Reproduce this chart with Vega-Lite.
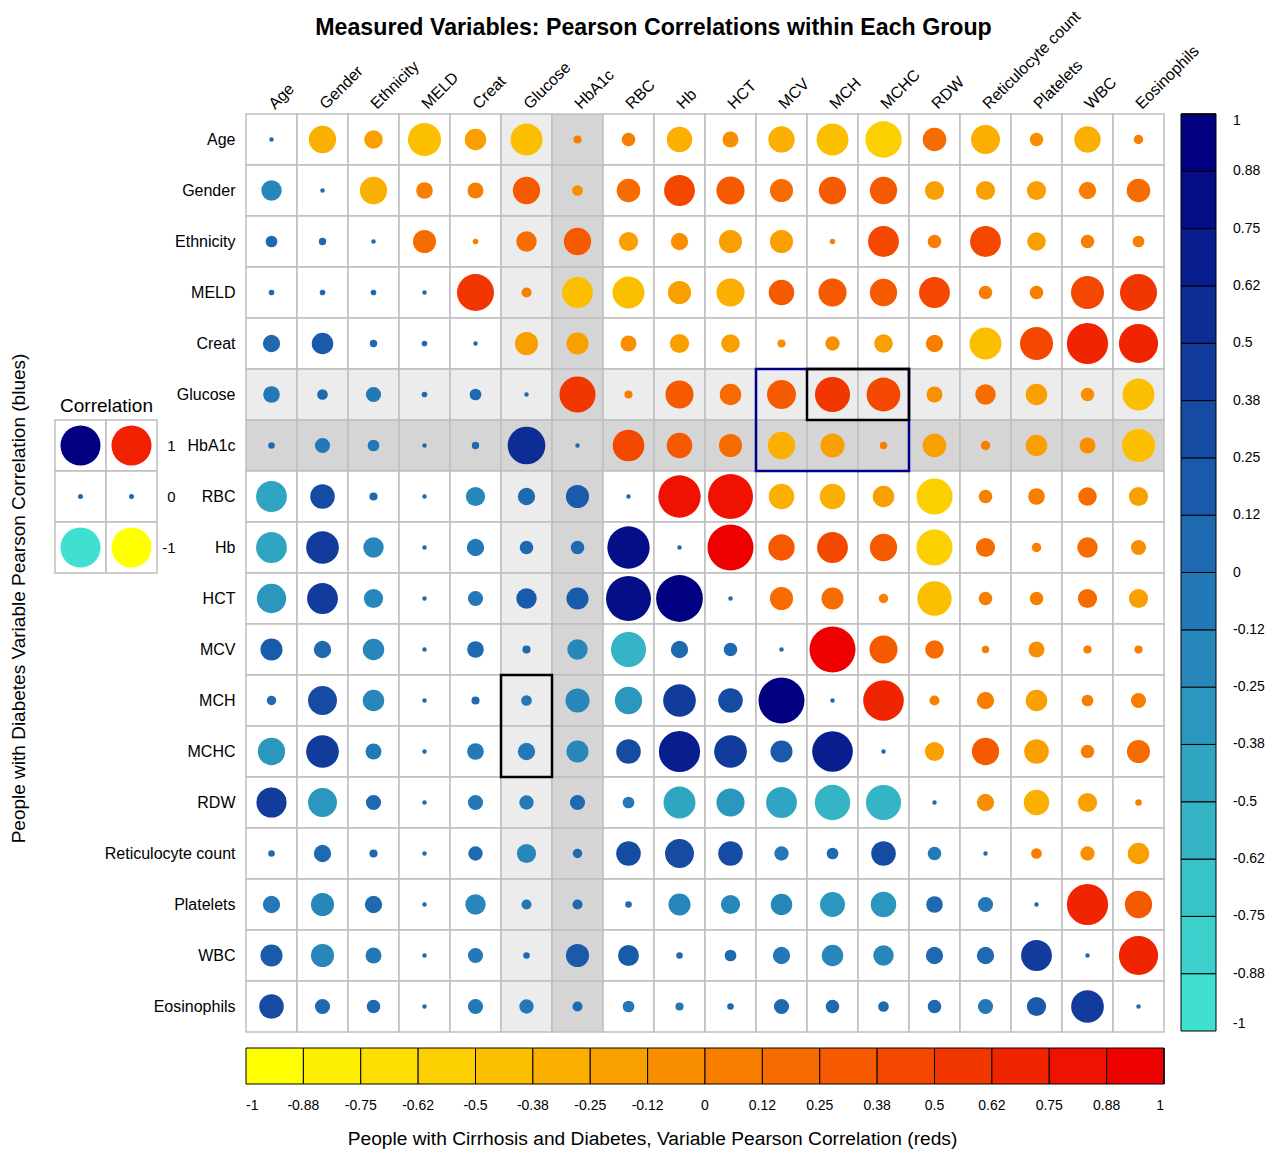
{
"$schema": "https://vega.github.io/schema/vega-lite/v6.json",
"width": 918, "height": 918,
"autosize": "none",
"padding": {"left": 246, "top": 114, "right": 110, "bottom": 117},
"background": "white",
"config": {"font": "Liberation Sans", "view": {"stroke": null}},
"datasets": {
"corr": [
{"a":"Age","b":"Age","g":"d","r":0},{"a":"Age","b":"Gender","g":"c","r":-0.31},{"a":"Age","b":"Ethnicity","g":"c","r":-0.14},{"a":"Age","b":"MELD","g":"c","r":-0.46},{"a":"Age","b":"Creat","g":"c","r":-0.19},{"a":"Age","b":"Glucose","g":"c","r":-0.43},{"a":"Age","b":"HbA1c","g":"c","r":0.02},{"a":"Age","b":"RBC","g":"c","r":0.07},{"a":"Age","b":"Hb","g":"c","r":-0.27},{"a":"Age","b":"HCT","g":"c","r":-0.1},{"a":"Age","b":"MCV","g":"c","r":-0.29},{"a":"Age","b":"MCH","g":"c","r":-0.43},{"a":"Age","b":"MCHC","g":"c","r":-0.56},{"a":"Age","b":"RDW","g":"c","r":0.23},{"a":"Age","b":"Reticulocyte count","g":"c","r":-0.35},{"a":"Age","b":"Platelets","g":"c","r":-0.07},{"a":"Age","b":"WBC","g":"c","r":-0.29},{"a":"Age","b":"Eosinophils","g":"c","r":0.03},
{"a":"Gender","b":"Age","g":"d","r":-0.17},{"a":"Gender","b":"Gender","g":"d","r":0},{"a":"Gender","b":"Ethnicity","g":"c","r":-0.31},{"a":"Gender","b":"MELD","g":"c","r":0.11},{"a":"Gender","b":"Creat","g":"c","r":0.1},{"a":"Gender","b":"Glucose","g":"c","r":0.31},{"a":"Gender","b":"HbA1c","g":"c","r":-0.04},{"a":"Gender","b":"RBC","g":"c","r":0.23},{"a":"Gender","b":"Hb","g":"c","r":0.4},{"a":"Gender","b":"HCT","g":"c","r":0.33},{"a":"Gender","b":"MCV","g":"c","r":0.22},{"a":"Gender","b":"MCH","g":"c","r":0.31},{"a":"Gender","b":"MCHC","g":"c","r":0.31},{"a":"Gender","b":"RDW","g":"c","r":-0.15},{"a":"Gender","b":"Reticulocyte count","g":"c","r":-0.15},{"a":"Gender","b":"Platelets","g":"c","r":-0.15},{"a":"Gender","b":"WBC","g":"c","r":0.12},{"a":"Gender","b":"Eosinophils","g":"c","r":0.23},
{"a":"Ethnicity","b":"Age","g":"d","r":0.05},{"a":"Ethnicity","b":"Gender","g":"d","r":0.015},{"a":"Ethnicity","b":"Ethnicity","g":"d","r":0},{"a":"Ethnicity","b":"MELD","g":"c","r":0.22},{"a":"Ethnicity","b":"Creat","g":"c","r":0.005},{"a":"Ethnicity","b":"Glucose","g":"c","r":0.17},{"a":"Ethnicity","b":"HbA1c","g":"c","r":0.31},{"a":"Ethnicity","b":"RBC","g":"c","r":-0.15},{"a":"Ethnicity","b":"Hb","g":"c","r":-0.12},{"a":"Ethnicity","b":"HCT","g":"c","r":-0.22},{"a":"Ethnicity","b":"MCV","g":"c","r":-0.22},{"a":"Ethnicity","b":"MCH","g":"c","r":0.004},{"a":"Ethnicity","b":"MCHC","g":"c","r":0.4},{"a":"Ethnicity","b":"RDW","g":"c","r":0.07},{"a":"Ethnicity","b":"Reticulocyte count","g":"c","r":0.4},{"a":"Ethnicity","b":"Platelets","g":"c","r":-0.14},{"a":"Ethnicity","b":"WBC","g":"c","r":0.07},{"a":"Ethnicity","b":"Eosinophils","g":"c","r":0.05},
{"a":"MELD","b":"Age","g":"d","r":0.005},{"a":"MELD","b":"Gender","g":"d","r":0.005},{"a":"MELD","b":"Ethnicity","g":"d","r":0.005},{"a":"MELD","b":"MELD","g":"d","r":0},{"a":"MELD","b":"Creat","g":"c","r":0.58},{"a":"MELD","b":"Glucose","g":"c","r":0.035},{"a":"MELD","b":"HbA1c","g":"c","r":-0.4},{"a":"MELD","b":"RBC","g":"c","r":-0.43},{"a":"MELD","b":"Hb","g":"c","r":-0.22},{"a":"MELD","b":"HCT","g":"c","r":-0.33},{"a":"MELD","b":"MCV","g":"c","r":0.27},{"a":"MELD","b":"MCH","g":"c","r":0.33},{"a":"MELD","b":"MCHC","g":"c","r":0.31},{"a":"MELD","b":"RDW","g":"c","r":0.4},{"a":"MELD","b":"Reticulocyte count","g":"c","r":0.07},{"a":"MELD","b":"Platelets","g":"c","r":0.07},{"a":"MELD","b":"WBC","g":"c","r":0.46},{"a":"MELD","b":"Eosinophils","g":"c","r":0.58},
{"a":"Creat","b":"Age","g":"d","r":0.12},{"a":"Creat","b":"Gender","g":"d","r":0.19},{"a":"Creat","b":"Ethnicity","g":"d","r":0.015},{"a":"Creat","b":"MELD","g":"d","r":0.005},{"a":"Creat","b":"Creat","g":"d","r":0},{"a":"Creat","b":"Glucose","g":"c","r":-0.22},{"a":"Creat","b":"HbA1c","g":"c","r":-0.2},{"a":"Creat","b":"RBC","g":"c","r":-0.1},{"a":"Creat","b":"Hb","g":"c","r":-0.15},{"a":"Creat","b":"HCT","g":"c","r":-0.14},{"a":"Creat","b":"MCV","g":"c","r":-0.02},{"a":"Creat","b":"MCH","g":"c","r":-0.08},{"a":"Creat","b":"MCHC","g":"c","r":-0.14},{"a":"Creat","b":"RDW","g":"c","r":0.12},{"a":"Creat","b":"Reticulocyte count","g":"c","r":-0.43},{"a":"Creat","b":"Platelets","g":"c","r":0.46},{"a":"Creat","b":"WBC","g":"c","r":0.72},{"a":"Creat","b":"Eosinophils","g":"c","r":0.65},
{"a":"Glucose","b":"Age","g":"d","r":-0.11},{"a":"Glucose","b":"Gender","g":"d","r":0.04},{"a":"Glucose","b":"Ethnicity","g":"d","r":-0.09},{"a":"Glucose","b":"MELD","g":"d","r":0.005},{"a":"Glucose","b":"Creat","g":"d","r":0.05},{"a":"Glucose","b":"Glucose","g":"d","r":0},{"a":"Glucose","b":"HbA1c","g":"c","r":0.55},{"a":"Glucose","b":"RBC","g":"c","r":0.02},{"a":"Glucose","b":"Hb","g":"c","r":0.33},{"a":"Glucose","b":"HCT","g":"c","r":0.19},{"a":"Glucose","b":"MCV","g":"c","r":0.35},{"a":"Glucose","b":"MCH","g":"c","r":0.52},{"a":"Glucose","b":"MCHC","g":"c","r":0.48},{"a":"Glucose","b":"RDW","g":"c","r":-0.1},{"a":"Glucose","b":"Reticulocyte count","g":"c","r":0.17},{"a":"Glucose","b":"Platelets","g":"c","r":-0.19},{"a":"Glucose","b":"WBC","g":"c","r":-0.07},{"a":"Glucose","b":"Eosinophils","g":"c","r":-0.43},
{"a":"HbA1c","b":"Age","g":"d","r":0.01},{"a":"HbA1c","b":"Gender","g":"d","r":-0.09},{"a":"HbA1c","b":"Ethnicity","g":"d","r":-0.05},{"a":"HbA1c","b":"MELD","g":"d","r":0},{"a":"HbA1c","b":"Creat","g":"d","r":0.015},{"a":"HbA1c","b":"Glucose","g":"d","r":0.6},{"a":"HbA1c","b":"HbA1c","g":"d","r":0},{"a":"HbA1c","b":"RBC","g":"c","r":0.42},{"a":"HbA1c","b":"Hb","g":"c","r":0.27},{"a":"HbA1c","b":"HCT","g":"c","r":0.22},{"a":"HbA1c","b":"MCV","g":"c","r":-0.31},{"a":"HbA1c","b":"MCH","g":"c","r":-0.24},{"a":"HbA1c","b":"MCHC","g":"c","r":0.015},{"a":"HbA1c","b":"RDW","g":"c","r":-0.23},{"a":"HbA1c","b":"Reticulocyte count","g":"c","r":0.03},{"a":"HbA1c","b":"Platelets","g":"c","r":-0.19},{"a":"HbA1c","b":"WBC","g":"c","r":-0.1},{"a":"HbA1c","b":"Eosinophils","g":"c","r":-0.46},
{"a":"RBC","b":"Age","g":"d","r":-0.4},{"a":"RBC","b":"Gender","g":"d","r":0.25},{"a":"RBC","b":"Ethnicity","g":"d","r":0.02},{"a":"RBC","b":"MELD","g":"d","r":0},{"a":"RBC","b":"Creat","g":"d","r":-0.15},{"a":"RBC","b":"Glucose","g":"d","r":0.12},{"a":"RBC","b":"HbA1c","g":"d","r":0.22},{"a":"RBC","b":"RBC","g":"d","r":0},{"a":"RBC","b":"Hb","g":"c","r":0.76},{"a":"RBC","b":"HCT","g":"c","r":0.86},{"a":"RBC","b":"MCV","g":"c","r":-0.27},{"a":"RBC","b":"MCH","g":"c","r":-0.27},{"a":"RBC","b":"MCHC","g":"c","r":-0.19},{"a":"RBC","b":"RDW","g":"c","r":-0.55},{"a":"RBC","b":"Reticulocyte count","g":"c","r":0.07},{"a":"RBC","b":"Platelets","g":"c","r":0.11},{"a":"RBC","b":"WBC","g":"c","r":0.14},{"a":"RBC","b":"Eosinophils","g":"c","r":-0.15},
{"a":"Hb","b":"Age","g":"d","r":-0.4},{"a":"Hb","b":"Gender","g":"d","r":0.45},{"a":"Hb","b":"Ethnicity","g":"d","r":-0.17},{"a":"Hb","b":"MELD","g":"d","r":0},{"a":"Hb","b":"Creat","g":"d","r":-0.12},{"a":"Hb","b":"Glucose","g":"d","r":0.07},{"a":"Hb","b":"HbA1c","g":"d","r":0.07},{"a":"Hb","b":"RBC","g":"d","r":0.76},{"a":"Hb","b":"Hb","g":"d","r":0},{"a":"Hb","b":"HCT","g":"c","r":0.9},{"a":"Hb","b":"MCV","g":"c","r":0.29},{"a":"Hb","b":"MCH","g":"c","r":0.4},{"a":"Hb","b":"MCHC","g":"c","r":0.31},{"a":"Hb","b":"RDW","g":"c","r":-0.55},{"a":"Hb","b":"Reticulocyte count","g":"c","r":0.15},{"a":"Hb","b":"Platelets","g":"c","r":0.03},{"a":"Hb","b":"WBC","g":"c","r":0.17},{"a":"Hb","b":"Eosinophils","g":"c","r":-0.09},
{"a":"HCT","b":"Age","g":"d","r":-0.36},{"a":"HCT","b":"Gender","g":"d","r":0.4},{"a":"HCT","b":"Ethnicity","g":"d","r":-0.15},{"a":"HCT","b":"MELD","g":"d","r":0},{"a":"HCT","b":"Creat","g":"d","r":-0.09},{"a":"HCT","b":"Glucose","g":"d","r":0.17},{"a":"HCT","b":"HbA1c","g":"d","r":0.2},{"a":"HCT","b":"RBC","g":"d","r":0.86},{"a":"HCT","b":"Hb","g":"d","r":0.93},{"a":"HCT","b":"HCT","g":"d","r":0},{"a":"HCT","b":"MCV","g":"c","r":0.22},{"a":"HCT","b":"MCH","g":"c","r":0.2},{"a":"HCT","b":"MCHC","g":"c","r":0.03},{"a":"HCT","b":"RDW","g":"c","r":-0.5},{"a":"HCT","b":"Reticulocyte count","g":"c","r":0.07},{"a":"HCT","b":"Platelets","g":"c","r":0.07},{"a":"HCT","b":"WBC","g":"c","r":0.15},{"a":"HCT","b":"Eosinophils","g":"c","r":-0.15},
{"a":"MCV","b":"Age","g":"d","r":0.2},{"a":"MCV","b":"Gender","g":"d","r":0.12},{"a":"MCV","b":"Ethnicity","g":"d","r":-0.19},{"a":"MCV","b":"MELD","g":"d","r":0},{"a":"MCV","b":"Creat","g":"d","r":0.11},{"a":"MCV","b":"Glucose","g":"d","r":0.02},{"a":"MCV","b":"HbA1c","g":"d","r":-0.17},{"a":"MCV","b":"RBC","g":"d","r":-0.52},{"a":"MCV","b":"Hb","g":"d","r":0.12},{"a":"MCV","b":"HCT","g":"d","r":0.07},{"a":"MCV","b":"MCV","g":"d","r":0},{"a":"MCV","b":"MCH","g":"c","r":0.9},{"a":"MCV","b":"MCHC","g":"c","r":0.33},{"a":"MCV","b":"RDW","g":"c","r":0.14},{"a":"MCV","b":"Reticulocyte count","g":"c","r":0.015},{"a":"MCV","b":"Platelets","g":"c","r":-0.1},{"a":"MCV","b":"WBC","g":"c","r":0.02},{"a":"MCV","b":"Eosinophils","g":"c","r":0.02},
{"a":"MCH","b":"Age","g":"d","r":0.03},{"a":"MCH","b":"Gender","g":"d","r":0.35},{"a":"MCH","b":"Ethnicity","g":"d","r":-0.19},{"a":"MCH","b":"MELD","g":"d","r":0},{"a":"MCH","b":"Creat","g":"d","r":0.02},{"a":"MCH","b":"Glucose","g":"d","r":-0.04},{"a":"MCH","b":"HbA1c","g":"d","r":-0.24},{"a":"MCH","b":"RBC","g":"d","r":-0.31},{"a":"MCH","b":"Hb","g":"d","r":0.45},{"a":"MCH","b":"HCT","g":"d","r":0.25},{"a":"MCH","b":"MCV","g":"d","r":0.9},{"a":"MCH","b":"MCH","g":"d","r":0},{"a":"MCH","b":"MCHC","g":"c","r":0.7},{"a":"MCH","b":"RDW","g":"c","r":0.035},{"a":"MCH","b":"Reticulocyte count","g":"c","r":0.12},{"a":"MCH","b":"Platelets","g":"c","r":-0.19},{"a":"MCH","b":"WBC","g":"c","r":0.05},{"a":"MCH","b":"Eosinophils","g":"c","r":0.09},
{"a":"MCHC","b":"Age","g":"d","r":-0.31},{"a":"MCHC","b":"Gender","g":"d","r":0.45},{"a":"MCHC","b":"Ethnicity","g":"d","r":-0.1},{"a":"MCHC","b":"MELD","g":"d","r":0},{"a":"MCHC","b":"Creat","g":"d","r":-0.11},{"a":"MCHC","b":"Glucose","g":"d","r":-0.12},{"a":"MCHC","b":"HbA1c","g":"d","r":-0.2},{"a":"MCHC","b":"RBC","g":"d","r":0.25},{"a":"MCHC","b":"Hb","g":"d","r":0.72},{"a":"MCHC","b":"HCT","g":"d","r":0.45},{"a":"MCHC","b":"MCV","g":"d","r":0.2},{"a":"MCHC","b":"MCH","g":"d","r":0.7},{"a":"MCHC","b":"MCHC","g":"d","r":0},{"a":"MCHC","b":"RDW","g":"c","r":-0.15},{"a":"MCHC","b":"Reticulocyte count","g":"c","r":0.31},{"a":"MCHC","b":"Platelets","g":"c","r":-0.25},{"a":"MCHC","b":"WBC","g":"c","r":0.07},{"a":"MCHC","b":"Eosinophils","g":"c","r":0.22},
{"a":"RDW","b":"Age","g":"d","r":0.38},{"a":"RDW","b":"Gender","g":"d","r":-0.35},{"a":"RDW","b":"Ethnicity","g":"d","r":0.09},{"a":"RDW","b":"MELD","g":"d","r":0},{"a":"RDW","b":"Creat","g":"d","r":-0.09},{"a":"RDW","b":"Glucose","g":"d","r":-0.08},{"a":"RDW","b":"HbA1c","g":"d","r":0.09},{"a":"RDW","b":"RBC","g":"d","r":-0.05},{"a":"RDW","b":"Hb","g":"d","r":-0.43},{"a":"RDW","b":"HCT","g":"d","r":-0.33},{"a":"RDW","b":"MCV","g":"d","r":-0.4},{"a":"RDW","b":"MCH","g":"d","r":-0.53},{"a":"RDW","b":"MCHC","g":"d","r":-0.52},{"a":"RDW","b":"RDW","g":"d","r":0},{"a":"RDW","b":"Reticulocyte count","g":"c","r":-0.12},{"a":"RDW","b":"Platelets","g":"c","r":-0.27},{"a":"RDW","b":"WBC","g":"c","r":-0.15},{"a":"RDW","b":"Eosinophils","g":"c","r":0.01},
{"a":"Reticulocyte count","b":"Age","g":"d","r":0.01},{"a":"Reticulocyte count","b":"Gender","g":"d","r":0.12},{"a":"Reticulocyte count","b":"Ethnicity","g":"d","r":0.02},{"a":"Reticulocyte count","b":"MELD","g":"d","r":0},{"a":"Reticulocyte count","b":"Creat","g":"d","r":0.08},{"a":"Reticulocyte count","b":"Glucose","g":"d","r":-0.15},{"a":"Reticulocyte count","b":"HbA1c","g":"d","r":0.03},{"a":"Reticulocyte count","b":"RBC","g":"d","r":0.25},{"a":"Reticulocyte count","b":"Hb","g":"d","r":0.35},{"a":"Reticulocyte count","b":"HCT","g":"d","r":0.25},{"a":"Reticulocyte count","b":"MCV","g":"d","r":-0.08},{"a":"Reticulocyte count","b":"MCH","g":"d","r":0.05},{"a":"Reticulocyte count","b":"MCHC","g":"d","r":0.25},{"a":"Reticulocyte count","b":"RDW","g":"d","r":-0.07},{"a":"Reticulocyte count","b":"Reticulocyte count","g":"d","r":0},{"a":"Reticulocyte count","b":"Platelets","g":"c","r":0.04},{"a":"Reticulocyte count","b":"WBC","g":"c","r":-0.08},{"a":"Reticulocyte count","b":"Eosinophils","g":"c","r":-0.19},
{"a":"Platelets","b":"Age","g":"d","r":-0.12},{"a":"Platelets","b":"Gender","g":"d","r":-0.22},{"a":"Platelets","b":"Ethnicity","g":"d","r":0.12},{"a":"Platelets","b":"MELD","g":"d","r":0},{"a":"Platelets","b":"Creat","g":"d","r":-0.17},{"a":"Platelets","b":"Glucose","g":"d","r":-0.035},{"a":"Platelets","b":"HbA1c","g":"d","r":0.035},{"a":"Platelets","b":"RBC","g":"d","r":0.01},{"a":"Platelets","b":"Hb","g":"d","r":-0.2},{"a":"Platelets","b":"HCT","g":"d","r":-0.15},{"a":"Platelets","b":"MCV","g":"d","r":-0.19},{"a":"Platelets","b":"MCH","g":"d","r":-0.26},{"a":"Platelets","b":"MCHC","g":"d","r":-0.27},{"a":"Platelets","b":"RDW","g":"d","r":0.11},{"a":"Platelets","b":"Reticulocyte count","g":"d","r":-0.09},{"a":"Platelets","b":"Platelets","g":"d","r":0},{"a":"Platelets","b":"WBC","g":"c","r":0.72},{"a":"Platelets","b":"Eosinophils","g":"c","r":0.31},
{"a":"WBC","b":"Age","g":"d","r":0.2},{"a":"WBC","b":"Gender","g":"d","r":-0.22},{"a":"WBC","b":"Ethnicity","g":"d","r":-0.1},{"a":"WBC","b":"MELD","g":"d","r":0},{"a":"WBC","b":"Creat","g":"d","r":-0.09},{"a":"WBC","b":"Glucose","g":"d","r":0.01},{"a":"WBC","b":"HbA1c","g":"d","r":0.22},{"a":"WBC","b":"RBC","g":"d","r":0.18},{"a":"WBC","b":"Hb","g":"d","r":0.01},{"a":"WBC","b":"HCT","g":"d","r":0.05},{"a":"WBC","b":"MCV","g":"d","r":-0.12},{"a":"WBC","b":"MCH","g":"d","r":-0.19},{"a":"WBC","b":"MCHC","g":"d","r":-0.17},{"a":"WBC","b":"RDW","g":"d","r":0.12},{"a":"WBC","b":"Reticulocyte count","g":"d","r":0.12},{"a":"WBC","b":"Platelets","g":"d","r":0.4},{"a":"WBC","b":"WBC","g":"d","r":0},{"a":"WBC","b":"Eosinophils","g":"c","r":0.65},
{"a":"Eosinophils","b":"Age","g":"d","r":0.25},{"a":"Eosinophils","b":"Gender","g":"d","r":0.09},{"a":"Eosinophils","b":"Ethnicity","g":"d","r":0.07},{"a":"Eosinophils","b":"MELD","g":"d","r":0},{"a":"Eosinophils","b":"Creat","g":"d","r":-0.09},{"a":"Eosinophils","b":"Glucose","g":"d","r":-0.08},{"a":"Eosinophils","b":"HbA1c","g":"d","r":0.035},{"a":"Eosinophils","b":"RBC","g":"d","r":-0.05},{"a":"Eosinophils","b":"Hb","g":"d","r":-0.02},{"a":"Eosinophils","b":"HCT","g":"d","r":0.01},{"a":"Eosinophils","b":"MCV","g":"d","r":0.09},{"a":"Eosinophils","b":"MCH","g":"d","r":0.07},{"a":"Eosinophils","b":"MCHC","g":"d","r":0.04},{"a":"Eosinophils","b":"RDW","g":"d","r":0.07},{"a":"Eosinophils","b":"Reticulocyte count","g":"d","r":-0.09},{"a":"Eosinophils","b":"Platelets","g":"d","r":0.15},{"a":"Eosinophils","b":"WBC","g":"d","r":0.45},{"a":"Eosinophils","b":"Eosinophils","g":"d","r":0}
],
"boxes": [
{"c1":"MCV","c2":"MCHC","r1":"Glucose","r2":"HbA1c","k":"blue"},
{"c1":"MCH","c2":"MCHC","r1":"Glucose","r2":"Glucose","k":"black"},
{"c1":"Glucose","c2":"Glucose","r1":"MCH","r2":"MCHC","k":"black"}
],
"keys": [
{"g":"d","v":1},{"g":"d","v":0},{"g":"d","v":-1},
{"g":"c","v":1},{"g":"c","v":0},{"g":"c","v":-1}
]
},
"layer": [
{
"layer": [
{
"data": {"name": "corr"},
"mark": {"type": "rect", "stroke": "#bebebe", "strokeWidth": 1.5},
"encoding": {
"x": {"field": "b", "type": "nominal",
"scale": {"domain": ["Age","Gender","Ethnicity","MELD","Creat","Glucose","HbA1c","RBC","Hb","HCT","MCV","MCH","MCHC","RDW","Reticulocyte count","Platelets","WBC","Eosinophils"], "paddingInner": 0, "paddingOuter": 0},
"axis": {"orient": "top", "labelAngle": -45, "labelAlign": "left", "labelBaseline": "middle", "ticks": false, "tickSize": 0, "domain": false, "labelPadding": 8, "labelFontSize": 16, "labelColor": "black", "labelOverlap": false, "labelLimit": 300,
"title": "Measured Variables: Pearson Correlations within Each Group", "titleFontSize": 23.2, "titleFontWeight": "bold", "titleColor": "black", "titleX": 407, "titleY": -87, "titleBaseline": "middle", "titleAlign": "center", "titleAngle": 0}},
"y": {"field": "a", "type": "nominal",
"scale": {"domain": ["Age","Gender","Ethnicity","MELD","Creat","Glucose","HbA1c","RBC","Hb","HCT","MCV","MCH","MCHC","RDW","Reticulocyte count","Platelets","WBC","Eosinophils"], "paddingInner": 0, "paddingOuter": 0},
"axis": {"orient": "left", "ticks": false, "tickSize": 0, "domain": false, "labelPadding": 11, "labelFontSize": 16, "labelColor": "black", "labelLimit": 300,
"title": "People with Diabetes Variable Pearson Correlation (blues)", "titleFontSize": 19, "titleFontWeight": "normal", "titleColor": "black", "titleX": -228, "titleY": 484, "titleAngle": -90, "titleBaseline": "middle", "titleAlign": "center"}},
"fill": {"condition": [{"test": "datum.a=='HbA1c' || datum.b=='HbA1c'", "value": "#d5d5d5"}, {"test": "datum.a=='Glucose' || datum.b=='Glucose'", "value": "#ececec"}], "value": "#ffffff"}
}
},
{
"data": {"name": "corr"},
"transform": [{"filter": "datum.g=='c'"}],
"mark": {"type": "circle", "opacity": 1},
"encoding": {
"x": {"field": "b", "type": "nominal"},
"y": {"field": "a", "type": "nominal"},
"size": {"field": "r", "type": "quantitative", "scale": {"type": "linear", "domain": [-1, 0, 1], "range": [2352, 20, 2352], "zero": false}, "legend": null},
"color": {"field": "r", "type": "quantitative",
"scale": {"type": "quantize", "domain": [-1, 1], "nice": false, "zero": false, "range": ["#FFFF00","#FEEF00","#FDDF00","#FCCF00","#FCBF00","#FBAF00","#FA9F00","#F98F00","#F87E00","#F76C00","#F55A00","#F44800","#F23600","#F12400","#EF1200","#EE0000"]},
"legend": {"type": "gradient", "orient": "none", "legendX": 0, "legendY": 934, "direction": "horizontal", "gradientLength": 918, "gradientThickness": 36, "title": null, "labelFontSize": 14, "labelColor": "black", "labelOffset": 15, "gradientStrokeColor": "black", "gradientStrokeWidth": 1, "labelOverlap": false,
"values": [-1, -0.875, -0.75, -0.625, -0.5, -0.375, -0.25, -0.125, 0, 0.125, 0.25, 0.375, 0.5, 0.625, 0.75, 0.875, 1],
"labelExpr": "replace(replace(replace(format(datum.value, '.2~f'), '0.13', '0.12'), '0.63', '0.62'), '\u2212', '-')"}}
}
},
{
"data": {"name": "corr"},
"transform": [{"filter": "datum.g=='d'"}],
"mark": {"type": "circle", "opacity": 1},
"encoding": {
"x": {"field": "b", "type": "nominal"},
"y": {"field": "a", "type": "nominal"},
"size": {"field": "r", "type": "quantitative", "scale": {"type": "linear", "domain": [-1, 0, 1], "range": [2352, 20, 2352], "zero": false}, "legend": null},
"color": {"field": "r", "type": "quantitative",
"scale": {"type": "quantize", "domain": [-1, 1], "nice": false, "zero": false, "range": ["#40E0D0","#3CD1CC","#38C2C9","#34B4C5","#30A5C2","#2B96BE","#2787BA","#2378B7","#1F69B1","#1A5AAA","#164BA3","#123C9C","#0D2D95","#091E8E","#040F87","#000080"]},
"legend": {"type": "gradient", "orient": "none", "legendX": 935, "legendY": 0, "direction": "vertical", "gradientLength": 917, "gradientThickness": 35, "title": null, "labelFontSize": 14, "labelColor": "black", "labelOffset": 17, "gradientStrokeColor": "black", "gradientStrokeWidth": 1, "labelOverlap": false,
"values": [-1, -0.875, -0.75, -0.625, -0.5, -0.375, -0.25, -0.125, 0, 0.125, 0.25, 0.375, 0.5, 0.625, 0.75, 0.875, 1],
"labelExpr": "replace(replace(replace(format(datum.value, '.2~f'), '0.13', '0.12'), '0.63', '0.62'), '\u2212', '-')"}}
}
},
{
"data": {"name": "boxes"},
"mark": {"type": "rect", "fillOpacity": 0, "strokeWidth": 2.5},
"encoding": {
"x": {"field": "c1", "type": "nominal", "bandPosition": 0},
"x2": {"field": "c2", "bandPosition": 1},
"y": {"field": "r1", "type": "nominal", "bandPosition": 0},
"y2": {"field": "r2", "bandPosition": 1},
"stroke": {"field": "k", "type": "nominal", "scale": {"domain": ["blue", "black"], "range": ["#00008b", "#000000"]}, "legend": null}
}
}
],
"resolve": {"scale": {"color": "independent"}}
},
{
"data": {"name": "keys"},
"layer": [
{
"mark": {"type": "rect", "fill": "white", "stroke": "#bebebe", "strokeWidth": 1.5},
"encoding": {
"x": {"field": "g", "type": "nominal", "scale": {"domain": ["d", "c"], "range": [-191, -89], "paddingInner": 0, "paddingOuter": 0},
"axis": {"orient": "top", "offset": -306, "labels": false, "ticks": false, "domain": false, "title": "Correlation", "titleFontSize": 19, "titleFontWeight": "normal", "titleColor": "black", "titleBaseline": "alphabetic", "titleY": -9, "titlePadding": 0}},
"y": {"field": "v", "type": "ordinal", "scale": {"domain": [1, 0, -1], "range": [306, 459], "paddingInner": 0, "paddingOuter": 0},
"axis": {"orient": "left", "offset": 69, "ticks": false, "tickSize": 0, "domain": false, "labelPadding": 2, "labelFontSize": 15, "labelColor": "black",
"title": "People with Cirrhosis and Diabetes, Variable Pearson Correlation (reds)", "titleAngle": 0, "titleX": 475, "titleY": 1024, "titleAlign": "center", "titleBaseline": "middle", "titleFontSize": 19.2, "titleFontWeight": "normal", "titleColor": "black"}}
}
},
{
"transform": [{"filter": "datum.g=='d'"}],
"mark": {"type": "circle", "opacity": 1},
"encoding": {
"x": {"field": "g", "type": "nominal"},
"y": {"field": "v", "type": "ordinal"},
"size": {"field": "v", "type": "quantitative", "scale": {"type": "linear", "domain": [-1, 0, 1], "range": [1600, 25, 1600], "zero": false}, "legend": null},
"color": {"field": "v", "type": "ordinal", "scale": {"domain": [1, 0, -1], "range": ["#000080", "#1F69B1", "#40E0D0"]}, "legend": null}
}
},
{
"transform": [{"filter": "datum.g=='c'"}],
"mark": {"type": "circle", "opacity": 1},
"encoding": {
"x": {"field": "g", "type": "nominal"},
"y": {"field": "v", "type": "ordinal"},
"size": {"field": "v", "type": "quantitative", "scale": {"type": "linear", "domain": [-1, 0, 1], "range": [1600, 25, 1600], "zero": false}, "legend": null},
"color": {"field": "v", "type": "ordinal", "scale": {"domain": [1, 0, -1], "range": ["#F02000", "#1F69B1", "#FFFF00"]}, "legend": null}
}
}
],
"resolve": {"scale": {"color": "independent"}}
}
],
"resolve": {"scale": {"x": "independent", "y": "independent", "color": "independent", "size": "independent"}}
}
